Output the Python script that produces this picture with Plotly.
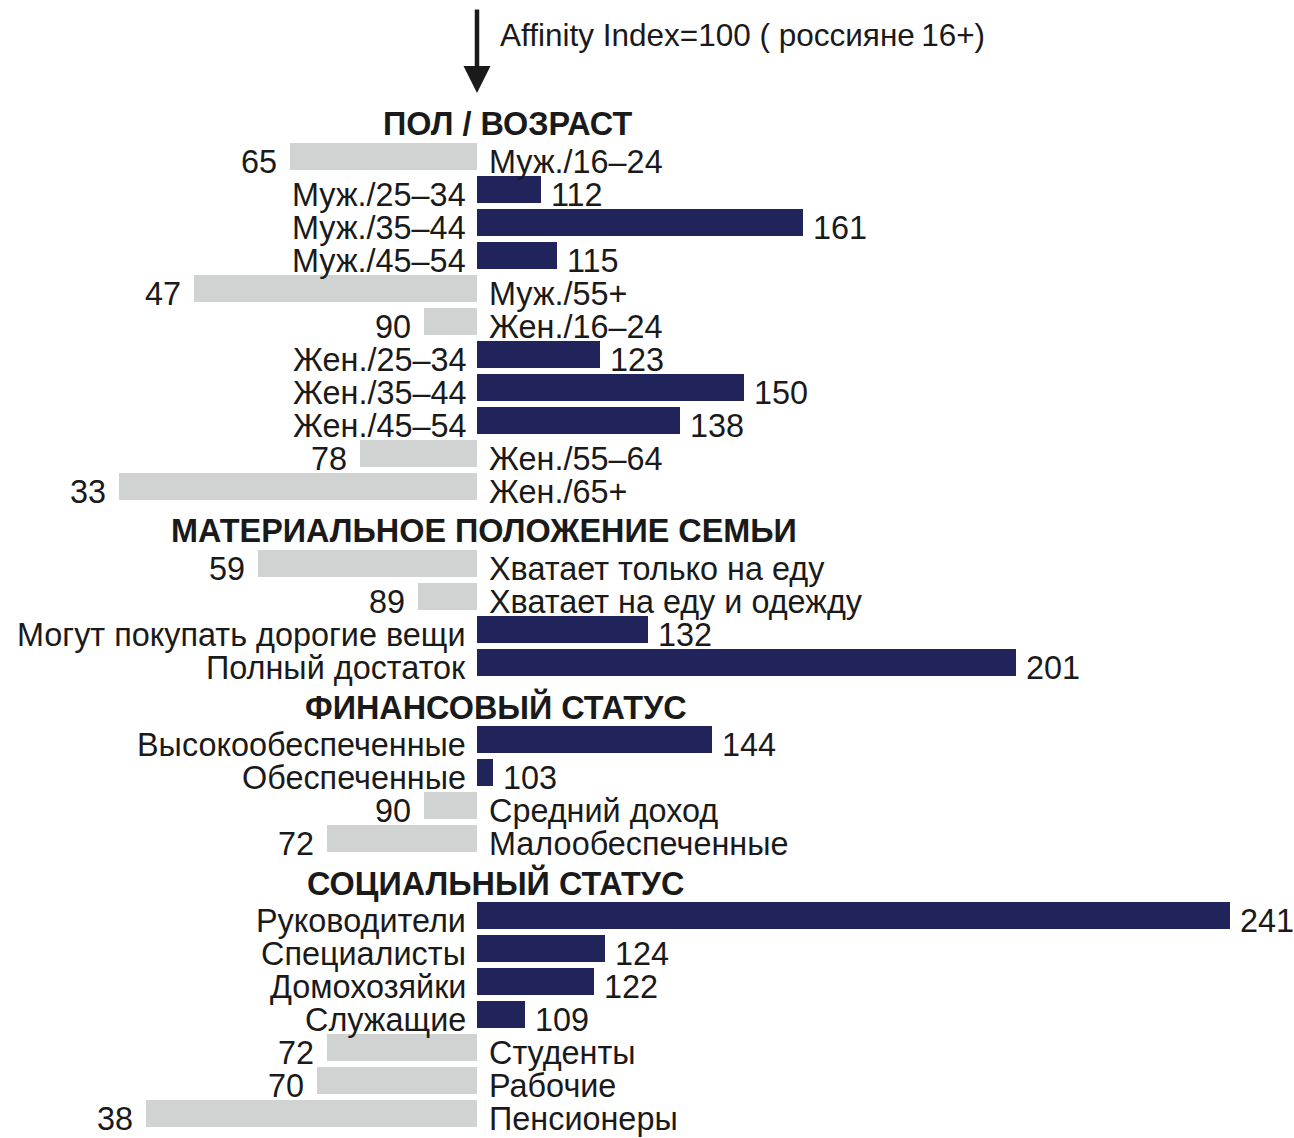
import plotly.graph_objects as go

# ---------------- data ----------------
BASELINE = 100
section_titles = ["ПОЛ / ВОЗРАСТ", "МАТЕРИАЛЬНОЕ ПОЛОЖЕНИЕ СЕМЬИ",
                  "ФИНАНСОВЫЙ СТАТУС", "СОЦИАЛЬНЫЙ СТАТУС"]

age_sex_labels = ["Муж./16–24", "Муж./25–34", "Муж./35–44", "Муж./45–54", "Муж./55+",
                  "Жен./16–24", "Жен./25–34", "Жен./35–44", "Жен./45–54", "Жен./55–64",
                  "Жен./65+"]
age_sex_values = [65, 112, 161, 115, 47, 90, 123, 150, 138, 78, 33]

wealth_labels = ["Хватает только на еду", "Хватает на еду и одежду",
                 "Могут покупать дорогие вещи", "Полный достаток"]
wealth_values = [59, 89, 132, 201]

finance_labels = ["Высокообеспеченные", "Обеспеченные", "Средний доход", "Малообеспеченные"]
finance_values = [144, 103, 90, 72]

social_labels = ["Руководители", "Специалисты", "Домохозяйки", "Служащие",
                 "Студенты", "Рабочие", "Пенсионеры"]
social_values = [241, 124, 122, 109, 72, 70, 38]

reference_note = "Affinity Index=100 ( россияне\u202f16+)"

# ---------------- layout constants ----------------
W, H = 1294, 1138
PX_PER_UNIT = 5.34
BASE_PX = 477
FIRST_ROW = 156.5
ROW_STEP = 33
SECTION_GAP = 77
HEADER_OFFSET = 34
BAR_H = 27
header_centers_px = [507, 484, 496, 496]

NAVY = "#20245a"
GREY = "#d1d3d2"
TEXT = "#1a1a1a"
FONT = "Liberation Sans, Arial, sans-serif"
FS = 32.4

sections = [
    (age_sex_labels, age_sex_values),
    (wealth_labels, wealth_values),
    (finance_labels, finance_values),
    (social_labels, social_values),
]

ys, labels, values, header_ys = [], [], [], []
y = FIRST_ROW
for si, (labs, vals) in enumerate(sections):
    if si > 0:
        y += SECTION_GAP - ROW_STEP
    header_ys.append(y - HEADER_OFFSET)
    for lab, v in zip(labs, vals):
        ys.append(y)
        labels.append(lab)
        values.append(v)
        y += ROW_STEP

colors = [NAVY if v >= BASELINE else GREY for v in values]

fig = go.Figure()
fig.add_trace(go.Bar(
    orientation="h",
    y=ys,
    x=[v - BASELINE for v in values],
    base=BASELINE,
    width=BAR_H,
    marker=dict(color=colors, line=dict(width=0)),
    hoverinfo="skip",
    showlegend=False,
))

annotations = []
TEXT_DY = -5
for yy, lab, v in zip(ys, labels, values):
    font = dict(family=FONT, size=FS, color=TEXT)
    if v >= BASELINE:
        annotations.append(dict(x=BASELINE, y=yy, text=lab, xanchor="right", yanchor="middle",
                                xshift=-9, yshift=TEXT_DY, showarrow=False, font=font))
        annotations.append(dict(x=v, y=yy, text=str(v), xanchor="left", yanchor="middle",
                                xshift=8, yshift=TEXT_DY, showarrow=False, font=font))
    else:
        annotations.append(dict(x=BASELINE, y=yy, text=lab, xanchor="left", yanchor="middle",
                                xshift=10, yshift=TEXT_DY, showarrow=False, font=font))
        annotations.append(dict(x=v, y=yy, text=str(v), xanchor="right", yanchor="middle",
                                xshift=-11, yshift=TEXT_DY, showarrow=False, font=font))

for title, hy, cx in zip(section_titles, header_ys, header_centers_px):
    annotations.append(dict(x=cx / W, xref="paper", y=hy, text=f"<b>{title}</b>",
                            xanchor="center", yanchor="middle", yshift=-1, showarrow=False,
                            font=dict(family=FONT, size=FS, color=TEXT)))

# reference arrow and note
annotations.append(dict(x=BASELINE, y=93, ax=BASELINE, ay=8, xref="x", yref="y",
                        axref="x", ayref="y", text="", showarrow=True,
                        arrowhead=2, arrowsize=1.2, arrowwidth=4.5, arrowcolor=TEXT))
annotations.append(dict(x=498 / W, xref="paper", y=35, text=reference_note,
                        xanchor="left", yanchor="middle", showarrow=False,
                        font=dict(family=FONT, size=31.5, color=TEXT)))

x_min = BASELINE - BASE_PX / PX_PER_UNIT
x_max = BASELINE + (W - BASE_PX) / PX_PER_UNIT

fig.update_layout(
    width=W, height=H,
    margin=dict(l=0, r=0, t=0, b=0, pad=0),
    paper_bgcolor="white", plot_bgcolor="white",
    xaxis=dict(range=[x_min, x_max], visible=False, fixedrange=True),
    yaxis=dict(range=[H, 0], visible=False, fixedrange=True),
    annotations=annotations,
    bargap=0,
)

fig.write_html("out.html", config={"displayModeBar": False},
               post_script="document.body.style.margin='0';")
